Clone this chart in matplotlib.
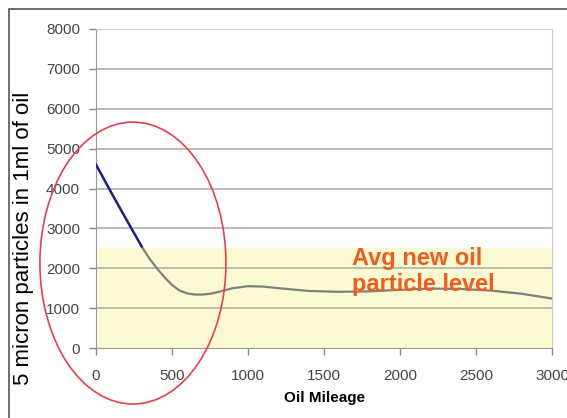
import matplotlib.pyplot as plt
from matplotlib.patches import Ellipse, Rectangle

plt.rcParams['font.family'] = ['Liberation Sans', 'DejaVu Sans']

# early readings (blue) and the rest of the run (grey)
millas_ini = [0, 100, 200, 300]
part_ini   = [4600, 3900, 3220, 2550]

millas = [300, 350, 400, 450, 500, 550, 600, 650, 700, 750, 800, 900, 1000,
          1100, 1200, 1400, 1600, 1800, 2000, 2200, 2400, 2600, 2800, 3000]
part   = [2550, 2250, 2000, 1780, 1580, 1440, 1370, 1340, 1340, 1360, 1400,
          1500, 1550, 1540, 1500, 1430, 1410, 1420, 1460, 1490, 1480, 1440,
          1360, 1240]

nivel_nuevo = 2500
yticks = [0, 1000, 2000, 3000, 4000, 5000, 6000, 7000, 8000]
xticks = [0, 500, 1000, 1500, 2000, 2500, 3000]

fig = plt.figure(figsize=(5.67, 4.18), dpi=100)
ax = fig.add_axes([96/567, 1 - 348/418, 456/567, 319/418])

# marco exterior
fig.patches.append(Rectangle((9/567, -0.1), 1.2, 1 - 9/418 + 0.1,
                             transform=fig.transFigure, fill=False,
                             ec='#555555', lw=1.2))

ax.axhspan(0, nivel_nuevo, color='#fbfad2', zorder=0)
for y in yticks[1:]:
    ax.axhline(y, color='#a8a8a8', lw=1.1, zorder=1)

ax.plot(millas, part, color='#808080', lw=1.6, zorder=3)
ax.plot(millas_ini, part_ini, color='#1c1c8a', lw=1.8, zorder=4)

ax.add_patch(Ellipse((243, 2130), 1224, 7070, fill=False, ec='#e8404a',
                     lw=1.2, clip_on=False, zorder=5))

ax.text(1685, 1920, 'Avg new oil\nparticle level', color='#f45a1e',
        fontsize=17, fontweight='bold', ha='left', va='center',
        linespacing=1.2, zorder=6)

ax.set_xlim(0, 3000)
ax.set_ylim(0, 8000)
ax.set_xticks(xticks)
ax.set_yticks(yticks)
ax.tick_params(labelsize=11, colors='#444444', length=5, width=1,
               color='#888888')
ax.tick_params(axis='x', pad=10)
ax.tick_params(axis='y', pad=6.5)
for s in ['top', 'right']:
    ax.spines[s].set_color('#cccccc')
for s in ['left', 'bottom']:
    ax.spines[s].set_color('#999999')

ax.set_xlabel('Oil Mileage', fontsize=11, fontweight='bold', labelpad=6)
fig.text(24/567, 1 - 238/418, '5 micron particles in 1ml of oil',
         rotation=90, fontsize=16, ha='center', va='center')

fig.savefig('out.png', dpi=100)
